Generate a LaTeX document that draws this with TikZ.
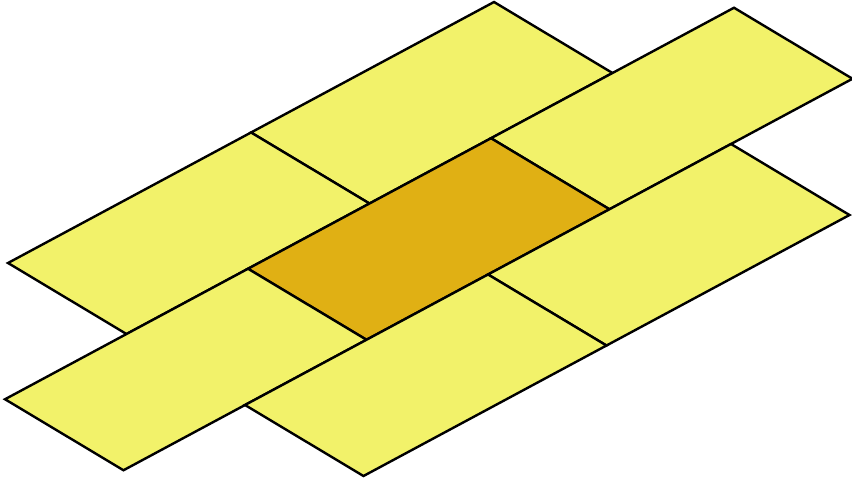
\documentclass[tikz,border=0pt]{standalone}
\definecolor{tilelight}{RGB}{242,242,106}
\definecolor{tiledark}{RGB}{224,176,20}
\tikzset{
  tileshape/.style={fill=tilelight, draw=black, line width=2.4pt, line join=miter},
  darktile/.style={tileshape, fill=tiledark}
}
\newcommand\paver[5][tileshape]{%
  \draw[#1] (#2,#4) -- (#3,#4) -- (#3,#5) -- (#2,#5) -- cycle;}
\begin{document}
\begin{tikzpicture}
\useasboundingbox (0,-479pt) rectangle (852pt,0);
\begin{scope}[shift={(494pt,-2pt)}, x={(118.5pt,-71pt)}, y={(-243pt,-130.5pt)}]
  \paver{0}{1}{0}{1}
  \paver{0}{1}{1}{2}
  \paver{1}{2}{-0.5}{0.5}
  \paver[darktile]{1}{2}{0.5}{1.5}
  \paver{1}{2}{1.5}{2.5}
  \paver{2}{3}{0}{1}
  \paver{2}{3}{1}{2}
\end{scope}
\end{tikzpicture}
\end{document}
